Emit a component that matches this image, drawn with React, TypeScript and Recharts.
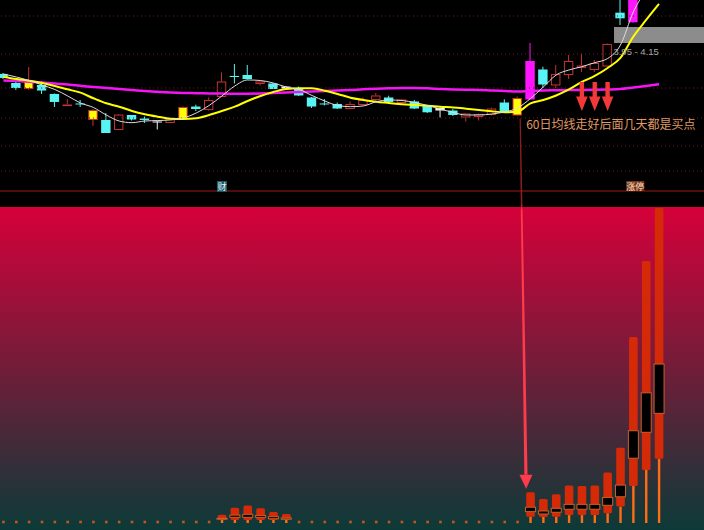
import React from "react";
import {
  ComposedChart,
  Bar,
  Line,
  XAxis,
  YAxis,
  ReferenceLine,
  ReferenceArea,
  ReferenceDot,
} from "recharts";

// 52 trading days plus 3 empty slots on the right
const days = Array.from({ length: 55 }, (_, i) => `D${i + 1}`);

const opens = [3.563, 3.45, 3.375, 3.425, 3.313, 3.181, 3.194, 2.988, 2.988, 2.863,
  3.05, 3.006, 2.969, 2.95, 2.994, 3.156, 3.113, 3.275, 3.538, 3.55,
  3.438, 3.444, 3.381, 3.388, 3.269, 3.194, 3.188, 3.125, 3.175, 3.238,
  3.269, 3.2, 3.219, 3.166, 3.138, 3.106, 3.019, 3.025, 3.05, 3.206,
  3.044, 3.244, 3.619, 3.419, 3.55, 3.638, 3.613, 3.656, 4.329, 4.209,
  4.75, 5.2];
const highs = [3.575, 3.463, 3.65, 3.475, 3.319, 3.25, 3.238, 3.125, 3.075, 3.063,
  3.05, 3.031, 2.975, 3.006, 3.156, 3.179, 3.269, 3.581, 3.688, 3.675,
  3.488, 3.45, 3.413, 3.406, 3.275, 3.25, 3.206, 3.219, 3.269, 3.325,
  3.291, 3.25, 3.238, 3.175, 3.144, 3.125, 3.075, 3.069, 3.144, 3.246,
  3.281, 3.95, 3.654, 3.675, 3.8, 3.819, 3.738, 3.944, 4.5, 4.74,
  5.21, 5.73];
const lows = [3.5, 3.363, 3.363, 3.313, 3.15, 3.175, 3.15, 2.913, 2.825, 2.863,
  2.981, 2.95, 2.869, 2.95, 2.988, 3.1, 3.106, 3.275, 3.444, 3.494,
  3.419, 3.375, 3.375, 3.288, 3.138, 3.169, 3.125, 3.125, 3.169, 3.231,
  3.188, 3.194, 3.125, 3.075, 3.019, 3.038, 2.969, 2.981, 3.044, 3.088,
  3.038, 3.244, 3.388, 3.388, 3.5, 3.588, 3.588, 3.65, 4.175, 4.206,
  4.7, 5.15];
const closes = [3.513, 3.388, 3.488, 3.356, 3.213, 3.181, 3.188, 3.113, 2.825, 3.056,
  2.994, 2.988, 2.963, 3.004, 3.15, 3.125, 3.238, 3.469, 3.525, 3.5,
  3.469, 3.375, 3.406, 3.294, 3.156, 3.188, 3.131, 3.188, 3.238, 3.294,
  3.213, 3.244, 3.131, 3.084, 3.106, 3.05, 3.069, 3.063, 3.131, 3.088,
  3.263, 3.725, 3.431, 3.563, 3.725, 3.669, 3.7, 3.938, 4.259, 4.738,
  5.2, 5.72];
// y = yellow signal day, m = limit-up (magenta), w = white doji
const kinds = "..y....y....w.y.......w...........w.....ym.......mmm";

const ma5 = [3.563, 3.525, 3.481, 3.425, 3.369, 3.288, 3.2, 3.144, 3.05, 2.975,
  2.954, 2.975, 2.981, 2.988, 3.013, 3.075, 3.169, 3.288, 3.413, 3.488,
  3.481, 3.45, 3.4, 3.369, 3.294, 3.225, 3.169, 3.154, 3.163, 3.216,
  3.238, 3.231, 3.206, 3.169, 3.125, 3.081, 3.05, 3.05, 3.063, 3.088,
  3.138, 3.256, 3.4, 3.55, 3.613, 3.654, 3.704, 3.756, 3.925, 4.338,
  4.63, 4.98];
const ma20 = [3.529, 3.5, 3.479, 3.45, 3.413, 3.371, 3.329, 3.259, 3.196, 3.154,
  3.1, 3.059, 3.029, 3.004, 3.0, 3.009, 3.05, 3.1, 3.154, 3.225,
  3.288, 3.338, 3.375, 3.384, 3.384, 3.354, 3.313, 3.266, 3.238, 3.216,
  3.2, 3.184, 3.175, 3.166, 3.154, 3.144, 3.129, 3.113, 3.096, 3.084,
  3.094, 3.196, 3.238, 3.294, 3.369, 3.463, 3.538, 3.638, 3.763, 4.029,
  4.238, 4.438];
const ma60 = [3.481, 3.475, 3.466, 3.456, 3.444, 3.431, 3.415, 3.4, 3.388, 3.375,
  3.363, 3.35, 3.34, 3.331, 3.325, 3.323, 3.32, 3.318, 3.316, 3.316,
  3.319, 3.325, 3.331, 3.338, 3.344, 3.35, 3.356, 3.363, 3.371, 3.378,
  3.384, 3.388, 3.388, 3.384, 3.375, 3.369, 3.365, 3.363, 3.356, 3.35,
  3.344, 3.35, 3.356, 3.359, 3.363, 3.363, 3.365, 3.369, 3.375, 3.394,
  3.413, 3.434];

// lower indicator: bar top, black box top/bottom, red bar bottom (0 = no signal)
const indHigh = [0, 0, 0, 0, 0, 0, 0, 0, 0, 0, 0, 0, 0, 0, 0, 0, 0,
  2.6, 4.8, 5.5, 4.65, 3.5, 2.85,
  0, 0, 0, 0, 0, 0, 0, 0, 0, 0, 0, 0, 0, 0, 0, 0, 0, 0,
  9.7, 7.6, 9.1, 11.9, 11.7, 11.9, 16.0, 23.8, 58.9, 82.9, 99.7];
const indBoxTop = [0, 0, 0, 0, 0, 0, 0, 0, 0, 0, 0, 0, 0, 0, 0, 0, 0,
  1.5, 2.5, 2.75, 2.4, 2.0, 1.6,
  0, 0, 0, 0, 0, 0, 0, 0, 0, 0, 0, 0, 0, 0, 0, 0, 0, 0,
  5.0, 3.8, 4.65, 5.9, 5.9, 5.9, 8.1, 12.0, 29.2, 41.2, 50.3];
const indBoxBottom = [0, 0, 0, 0, 0, 0, 0, 0, 0, 0, 0, 0, 0, 0, 0, 0, 0,
  1.2, 1.8, 1.8, 1.8, 1.35, 1.2,
  0, 0, 0, 0, 0, 0, 0, 0, 0, 0, 0, 0, 0, 0, 0, 0, 0, 0,
  3.6, 2.85, 3.4, 4.35, 4.35, 4.35, 5.6, 8.3, 20.5, 28.7, 34.7];
const indLow = [0, 0, 0, 0, 0, 0, 0, 0, 0, 0, 0, 0, 0, 0, 0, 0, 0,
  0.95, 0.95, 0.95, 0.95, 0.95, 0.95,
  0, 0, 0, 0, 0, 0, 0, 0, 0, 0, 0, 0, 0, 0, 0, 0, 0, 0,
  2.0, 1.9, 2.0, 2.5, 2.5, 2.5, 3.1, 5.2, 11.7, 16.8, 20.3];

const gridPrices = [4.2875, 3.8125, 3.3875, 3.0125, 2.6625, 2.35];
const zoneLow = 3.95;
const zoneHigh = 4.15;
const buyDays = [45, 46, 47];
const signalDay = 40;
const note = "60日均线走好后面几天都是买点";

const rows = days.map((day, i) => ({
  day,
  open: opens[i] ?? null,
  high: highs[i] ?? null,
  low: lows[i] ?? null,
  close: closes[i] ?? null,
  kind: kinds[i] ?? ".",
  range: highs[i] != null ? [lows[i], highs[i]] : null,
  ma5: ma5[i] ?? null,
  ma20: ma20[i] ?? null,
  ma60: ma60[i] ?? null,
  ih: indHigh[i] ?? null,
  ibt: indBoxTop[i] ?? null,
  ibb: indBoxBottom[i] ?? null,
  ilo: indLow[i] ?? null,
  indRange: indHigh[i] ? [0, indHigh[i]] : null,
  zero: indHigh[i] === 0 ? 0 : null,
}));

const UP = "#c83232";
const DOWN = "#58f4f4";

function Candle(props: any) {
  const { x, y, width, height, payload } = props;
  if (payload.high == null || !height) return null;
  const k = height / (payload.high - payload.low);
  const py = (v: number) => y + (payload.high - v) * k;
  const cx = x + width / 2;
  const top = py(Math.max(payload.open, payload.close));
  const bot = py(Math.min(payload.open, payload.close));
  const bh = Math.max(bot - top, 1);
  const up = payload.close >= payload.open;
  const hw = 4.7;
  const kind = payload.kind;
  if (kind === "m" || kind === "w" || (!up && kind === ".")) {
    const c = kind === "m" ? "#ff14ff" : kind === "w" ? "#f2f2f2" : DOWN;
    return (
      <g>
        <line x1={cx} x2={cx} y1={py(payload.high)} y2={py(payload.low)} stroke={c} strokeWidth={1} />
        <rect x={cx - hw} y={top} width={hw * 2} height={bh} fill={c} />
      </g>
    );
  }
  return (
    <g>
      <line x1={cx} x2={cx} y1={py(payload.high)} y2={top} stroke={UP} strokeWidth={1} />
      <line x1={cx} x2={cx} y1={top + bh} y2={py(payload.low)} stroke={UP} strokeWidth={1} />
      {bh < 1.6 ? (
        <rect x={cx - hw} y={top} width={hw * 2} height={1.6} fill={UP} />
      ) : (
        <rect x={cx - hw + 0.5} y={top + 0.5} width={hw * 2 - 1} height={bh - 1} fill={kind === "y" ? "#ffff00" : "#000"} stroke={UP} strokeWidth={1} />
      )}
    </g>
  );
}

function IndCandle(props: any) {
  const { x, y, width, height, payload } = props;
  if (!payload.ih || !height) return null;
  const k = height / payload.ih;
  const base = y + height;
  const py = (v: number) => base - v * k;
  const cx = x + width / 2;
  return (
    <g>
      <rect x={cx - 1.2} y={py(payload.ilo)} width={2.4} height={base - py(payload.ilo)} fill="#ff6c16" />
      <rect x={cx - 4.3} y={py(payload.ih)} width={8.6} height={py(payload.ilo) - py(payload.ih)} rx={1.5} fill="#d42a08" />
      <rect x={cx - 5} y={py(payload.ibt)} width={10} height={Math.max(py(payload.ibb) - py(payload.ibt), 1)} fill="#000" stroke="#c8602a" strokeWidth={1} />
    </g>
  );
}

function ZeroDot(props: any) {
  const { cx, cy, index } = props;
  if (cy == null || cx == null) return <g key={`z${index}`} />;
  return <rect key={`z${index}`} x={cx - 1.3} y={cy - 2.3} width={2.6} height={2.6} fill="#c8541c" />;
}

function BigArrow(props: any) {
  const { x1, y1, x2, y2 } = props;
  const sx = x1 + 2.6;
  const ex = x2 - 4.3;
  const hy = y2 - 14;
  const hx = sx + ((ex - sx) * (hy - y1)) / (y2 - y1);
  return (
    <g>
      <defs>
        <linearGradient id="bigArrow" gradientUnits="userSpaceOnUse" x1={0} y1={y1} x2={0} y2={y2}>
          <stop offset="0" stopColor="#8a1c1c" />
          <stop offset="0.23" stopColor="#8a1c1c" />
          <stop offset="0.25" stopColor="#ff3a4a" />
          <stop offset="1" stopColor="#ff3a4a" />
        </linearGradient>
      </defs>
      <polygon points={`${sx - 0.6},${y1} ${sx + 0.6},${y1} ${hx + 1.6},${hy} ${hx - 1.6},${hy}`} fill="url(#bigArrow)" />
      <polygon points={`${hx - 6.5},${hy} ${hx + 6.5},${hy} ${ex},${y2}`} fill="#ff3a4a" />
    </g>
  );
}

function BuyArrow(props: any) {
  const { cx, cy } = props;
  return (
    <g>
      <rect x={cx - 2.2} y={cy} width={4.4} height={15.5} fill="#f23838" />
      <polygon points={`${cx - 5.8},${cy + 14.5} ${cx + 5.8},${cy + 14.5} ${cx},${cy + 29}`} fill="#f23838" />
    </g>
  );
}

const BG =
  "linear-gradient(to bottom, #000 0px, #000 190px, #520c0c 190px, #520c0c 192px, #000 192px, #000 207px, #d6003a 207px, #0c3a38 530px)";

export default function App() {
  return (
    <div style={{ position: "absolute", left: 0, top: 0, width: 704, height: 530, overflow: "hidden", background: BG }}>
      <div style={{ position: "absolute", left: -3, top: 0 }}>
        <ComposedChart width={707} height={530} data={rows} margin={{ top: 0, right: 0, bottom: 0, left: 0 }}>
          <XAxis xAxisId="a" dataKey="day" hide />
          <XAxis xAxisId="b" dataKey="day" hide />
          <YAxis yAxisId="p" type="number" domain={[-2.1375, 4.4875]} allowDataOverflow hide />
          <YAxis yAxisId="v" type="number" domain={[-2.215, 165.51]} allowDataOverflow hide />

          {gridPrices.map((p) => (
            <ReferenceLine key={p} xAxisId="a" yAxisId="p" y={p} stroke="#6e1c1c" strokeDasharray="1 3" />
          ))}
          <ReferenceArea
            xAxisId="a"
            yAxisId="p"
            x1={days[48]}
            x2={days[54]}
            y1={zoneLow}
            y2={zoneHigh}
            ifOverflow="visible"
            fill="#8c8c8c"
            fillOpacity={1}
            stroke="none"
          />

          <Bar xAxisId="a" yAxisId="p" dataKey="range" barSize={10} shape={Candle} isAnimationActive={false} />
          <Line xAxisId="a" yAxisId="p" type="monotone" dataKey="ma60" stroke="#f414f4" strokeWidth={2.5} dot={false} activeDot={false} isAnimationActive={false} />
          <Line xAxisId="a" yAxisId="p" type="monotone" dataKey="ma20" stroke="#ffff00" strokeWidth={2} dot={false} activeDot={false} isAnimationActive={false} />
          <Line xAxisId="a" yAxisId="p" type="monotone" dataKey="ma5" stroke="#dcdcdc" strokeWidth={1} dot={false} activeDot={false} isAnimationActive={false} />

          <Bar xAxisId="b" yAxisId="v" dataKey="indRange" barSize={11} shape={IndCandle} isAnimationActive={false} />
          <Line xAxisId="b" yAxisId="v" dataKey="zero" stroke="none" dot={ZeroDot} activeDot={false} isAnimationActive={false} />

          <ReferenceDot
            xAxisId="a"
            yAxisId="p"
            x={days[48]}
            y={zoneLow}
            r={0}
            shape={(p: any) => (
              <text x={p.cx - 7} y={p.cy + 11.5} fill="#a8a8a8" fontSize={9.5} fontFamily="Liberation Sans, Arial, sans-serif">
                {`${zoneLow.toFixed(2)} - ${zoneHigh.toFixed(2)}`}
              </text>
            )}
          />
          {buyDays.map((d) => (
            <ReferenceDot key={d} xAxisId="a" yAxisId="p" x={days[d]} y={3.4625} r={0} shape={BuyArrow} />
          ))}
          <ReferenceDot
            xAxisId="a"
            yAxisId="p"
            x={days[signalDay + 1]}
            y={3.0125}
            r={0}
            shape={(p: any) => (
              <text x={p.cx - 4.3} y={p.cy + 11} fill="#e09a66" fontSize={12} fontFamily="Noto Sans CJK SC, sans-serif">
                {note}
              </text>
            )}
          />
          <ReferenceDot
            xAxisId="a"
            yAxisId="p"
            x={days[17]}
            y={2.1625}
            r={0}
            shape={(p: any) => (
              <g>
                <rect x={p.cx - 5} y={p.cy - 5} width={10} height={11} fill="#1d5a68" />
                <text x={p.cx} y={p.cy + 4} textAnchor="middle" fill="#e8f4f4" fontSize={9} fontFamily="Noto Sans CJK SC, sans-serif">财</text>
              </g>
            )}
          />
          <ReferenceDot
            xAxisId="a"
            yAxisId="p"
            x={days[49]}
            y={2.1625}
            r={0}
            shape={(p: any) => (
              <g>
                <rect x={p.cx - 7} y={p.cy - 5} width={18} height={10} fill="#74361a" />
                <text x={p.cx + 2} y={p.cy + 3.5} textAnchor="middle" fill="#ffe2c8" fontSize={9} fontFamily="Noto Sans CJK SC, sans-serif">涨停</text>
              </g>
            )}
          />
          <ReferenceLine
            xAxisId="b"
            yAxisId="v"
            segment={[
              { x: days[signalDay], y: 128 },
              { x: days[signalDay + 1], y: indHigh[signalDay + 1] + 1.1 },
            ]}
            shape={BigArrow}
          />
        </ComposedChart>
      </div>
    </div>
  );
}
